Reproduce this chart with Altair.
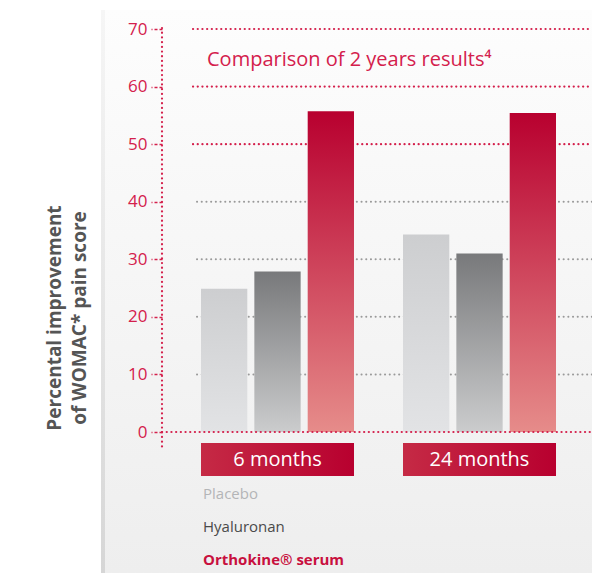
import altair as alt
import pandas as pd

# ---- data ----
periods = ["6 months", "24 months"]
series = ["Placebo", "Hyaluronan", "Orthokine® serum"]
values_6m = [24.9, 27.9, 55.7]
values_24m = [34.3, 31.0, 55.4]
y_ticks = [0, 10, 20, 30, 40, 50, 60, 70]
red_grid = [50, 60, 70]
gray_grid = [10, 20, 30, 40]
title_text = "Comparison of 2 years results⁴"
y_title = ["Percental improvement", "of WOMAC* pain score"]

rows = []
for p, vals in zip(periods, [values_6m, values_24m]):
    for s, v in zip(series, vals):
        rows.append({"period": p, "series": s, "value": v})
df = pd.DataFrame(rows)

FONT = "Open Sans"
AXRED = "#d4204c"

W, H = 430, 403
PB = 141

x_enc = alt.X("period:N", sort=periods, axis=None,
              scale=alt.Scale(range=[39, 394], paddingInner=0.2426, paddingOuter=0))
xo_enc = alt.XOffset("series:N", sort=series,
                     scale=alt.Scale(paddingInner=0.132, paddingOuter=0))
y_scale = alt.Scale(domain=[0, 70], nice=False)

base = alt.Chart(df)

# panel background
panel = alt.Chart(pd.DataFrame({"a": [0]})).mark_rect(
    color=alt.Gradient(gradient="linear",
                       stops=[alt.GradientStop(color="#fdfdfd", offset=0),
                              alt.GradientStop(color="#eeeeee", offset=1)],
                       x1=0, x2=0, y1=0, y2=1)
).encode(x=alt.value(-59), x2=alt.value(W), y=alt.value(-19), y2=alt.value(H + PB))

shadow = alt.Chart(pd.DataFrame({"a": [0]})).mark_rect(
    color=alt.Gradient(gradient="linear",
                       stops=[alt.GradientStop(color="#f6f6f6", offset=0),
                              alt.GradientStop(color="#d6d6d6", offset=1)],
                       x1=0, x2=0, y1=0, y2=1)
).encode(x=alt.value(-61), x2=alt.value(-57), y=alt.value(-19), y2=alt.value(H + PB))

# gridlines
grid_df = pd.DataFrame({"v": red_grid + gray_grid,
                        "kind": ["red"] * len(red_grid) + ["gray"] * len(gray_grid)})
grid_red = alt.Chart(grid_df).transform_filter("datum.kind == 'red'").mark_rule(
    color=AXRED, strokeWidth=2.2, strokeDash=[0.1, 4.6], strokeCap="round"
).encode(y=alt.Y("v:Q", scale=y_scale,
                 axis=alt.Axis(values=y_ticks, domain=False, grid=False, zindex=1,
                               tickColor=AXRED, tickSize=11, tickWidth=1.6, tickDash=[3, 2],
                               labelColor=AXRED, labelFontSize=17, labelFont=FONT,
                               labelPadding=4, title=None)),
         x=alt.value(31), x2=alt.value(W))
grid_gray = alt.Chart(grid_df).transform_filter("datum.kind == 'gray'").mark_rule(
    color="#9a9a9a", strokeWidth=2, strokeDash=[0.1, 4.6], strokeCap="round"
).encode(y=alt.Y("v:Q", scale=y_scale), x=alt.value(35), x2=alt.value(W))
zero_line = alt.Chart(pd.DataFrame({"v": [0]})).mark_rule(
    color=AXRED, strokeWidth=2.2, strokeDash=[0.1, 4.6], strokeCap="round"
).encode(y=alt.Y("v:Q", scale=y_scale), x=alt.value(0), x2=alt.value(W))

# vertical axis line
axis_line = alt.Chart(pd.DataFrame({"a": [0]})).mark_rule(
    color=AXRED, strokeWidth=2.2, strokeDash=[0.1, 4.6], strokeCap="round"
).encode(x=alt.value(0), y=alt.value(-1), y2=alt.value(H + 15))

bar_grads = {
    "Placebo": ("#cdced0", "#e2e3e5"),
    "Hyaluronan": ("#78797b", "#cbcccd"),
    "Orthokine® serum": ("#b8002f", "#e68c8a"),
}
bars = []
for s in series:
    top, bot = bar_grads[s]
    bars.append(
        base.transform_filter(alt.datum.series == s).mark_bar(
            color=alt.Gradient(gradient="linear",
                               stops=[alt.GradientStop(color=top, offset=0),
                                      alt.GradientStop(color=bot, offset=1)],
                               x1=0, x2=0, y1=0, y2=1)
        ).encode(x=x_enc, xOffset=xo_enc, y=alt.Y("value:Q", scale=y_scale))
    )

# period label boxes
per_df = pd.DataFrame({"period": periods})
boxes = alt.Chart(per_df).mark_bar(
    color=alt.Gradient(gradient="linear",
                       stops=[alt.GradientStop(color="#c52a45", offset=0),
                              alt.GradientStop(color="#b8002f", offset=1)],
                       x1=0, x2=1, y1=0, y2=0)
).encode(x=x_enc, y=alt.value(H + 11), y2=alt.value(H + 44))
box_text = alt.Chart(per_df).mark_text(
    color="white", fontSize=20, font=FONT, baseline="middle"
).encode(x=x_enc, y=alt.value(H + 28), text="period:N")

# legend-like labels
leg_colors = ["#b4b5b7", "#4a4a4a", "#c8103e"]
leg_weights = ["normal", "normal", "bold"]
legend_layers = []
for i, s in enumerate(series):
    legend_layers.append(
        alt.Chart(pd.DataFrame({"s": [s]})).mark_text(
            align="left", baseline="middle", fontSize=15, font=FONT,
            color=leg_colors[i], fontWeight=leg_weights[i]
        ).encode(x=alt.value(41), y=alt.value(H + 62 + 33 * i), text="s:N")
    )

# title inside
title = alt.Chart(pd.DataFrame({"t": [title_text]})).mark_text(
    align="left", baseline="middle", fontSize=20, font=FONT, color=AXRED
).encode(x=alt.value(45), y=alt.value(31), text="t:N")

# y title
ytitles = []
for i, line in enumerate(y_title):
    ytitles.append(
        alt.Chart(pd.DataFrame({"t": [line]})).mark_text(
            angle=270, align="center", baseline="middle", fontSize=19, font=FONT,
            fontWeight="bold", color="#555555"
        ).encode(x=alt.value(-107 + 25 * i), y=alt.value(289), text="t:N")
    )

chart = alt.layer(
    panel, shadow, grid_red, grid_gray, *bars, zero_line, axis_line,
    boxes, box_text, *legend_layers, title, *ytitles
).properties(
    width=W, height=H,
    padding={"left": 154, "top": 21, "right": 0, "bottom": PB},
    autosize=alt.AutoSizeParams(type="none"),
).configure_view(stroke=None).configure(background="white")

chart.save("out.html", embed_options={"renderer": "svg", "actions": False})
